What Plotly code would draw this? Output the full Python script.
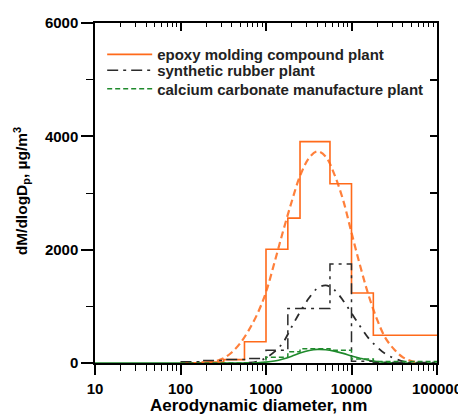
import plotly.graph_objects as go

# ---- data ----
bin_edges = [100, 180, 320, 560, 1000, 1800, 2500, 5600, 10000, 18000, 100000]
epoxy_step = [5, 18, 60, 375, 2007, 2556, 3906, 3163, 1234, 490]
rubber_step = [20, 45, 60, 80, 225, 963, 963, 1747, 30, 10]
calcium_step = [0, 0, 0, 5, 100, 200, 250, 225, 70, 25]

epoxy_fit_x = [200, 250, 320, 400, 500, 630, 800, 1000, 1260, 1580, 2000, 2500, 3200,
               4000, 5000, 6300, 8000, 10000, 12600, 15800, 20000, 25000, 32000, 40000,
               50000, 63000]
epoxy_fit_y = [5, 25, 85, 190, 350, 580, 880, 1250, 1780, 2320, 2850, 3300, 3620,
               3735, 3640, 3330, 2870, 2300, 1720, 1200, 760, 440, 230, 100, 35, 5]

rubber_fit_x = [630, 800, 1000, 1260, 1580, 2000, 2500, 3200, 4000, 5000, 6300, 8000,
                10000, 12600, 15800, 20000, 25000, 32000, 40000, 50000]
rubber_fit_y = [5, 30, 90, 200, 360, 640, 900, 1150, 1320, 1370, 1290, 1100,
                880, 650, 440, 280, 160, 80, 30, 5]

calcium_fit_x = [10, 100, 500, 800, 1000, 1260, 1580, 2000, 2500, 3200, 4000, 5000,
                 6300, 8000, 10000, 12600, 15800, 20000, 25000, 32000, 40000, 100000]
calcium_fit_y = [0, 0, 0, 5, 15, 35, 70, 120, 175, 220, 240, 235,
                 210, 170, 125, 85, 50, 25, 10, 4, 0, 0]

x_ticks = [10, 100, 1000, 10000, 100000]
x_ticktext = ["10", "100", "1000", "10000", "100000"]
x_minor = [m * d for d in [10, 100, 1000, 10000] for m in range(2, 10)]
y_ticks = [0, 2000, 4000, 6000]
y_minor = [1000, 3000, 5000]

series_names = ["epoxy molding compound plant", "synthetic rubber plant",
                "calcium carbonate manufacture plant"]

ORANGE = "#ff6a1a"
BLACK = "#2b2b2b"
GREEN = "#1f8a2c"


def step_xy(edges, vals):
    return list(edges), list(vals) + [vals[-1]]


fig = go.Figure()

# fitted curves (not in legend)
fig.add_trace(go.Scatter(x=calcium_fit_x, y=calcium_fit_y, mode="lines", line_shape="spline",
                         line=dict(color=GREEN, width=1.6), showlegend=False, hoverinfo="skip"))
fig.add_trace(go.Scatter(x=epoxy_fit_x, y=epoxy_fit_y, mode="lines", line_shape="spline",
                         line=dict(color=ORANGE, width=2.2, dash="7px,4px"),
                         opacity=0.85, showlegend=False, hoverinfo="skip"))
fig.add_trace(go.Scatter(x=rubber_fit_x, y=rubber_fit_y, mode="lines", line_shape="spline",
                         line=dict(color=BLACK, width=1.8, dash="8px,6px,2px,6px"),
                         showlegend=False, hoverinfo="skip"))

# step histograms (legend entries, one legend per row for exact spacing)
sx, sy = step_xy(bin_edges, epoxy_step)
fig.add_trace(go.Scatter(x=sx, y=sy, mode="lines", line_shape="hv", name=series_names[0],
                         line=dict(color=ORANGE, width=1.6), legend="legend"))
sx, sy = step_xy(bin_edges, rubber_step)
fig.add_trace(go.Scatter(x=sx, y=sy, mode="lines", line_shape="hv", name=series_names[1],
                         line=dict(color=BLACK, width=1.5, dash="11px,5px,3px,5px"),
                         legend="legend2"))
sx, sy = step_xy(bin_edges, calcium_step)
fig.add_trace(go.Scatter(x=sx, y=sy, mode="lines", line_shape="hv", name=series_names[2],
                         line=dict(color=GREEN, width=1.5, dash="5px,3px"),
                         legend="legend3"))

# helper trace to carry the top/right mirror axes
fig.add_trace(go.Scatter(x=[10, 100000], y=[0, 0], xaxis="x2", yaxis="y2", mode="lines",
                         line=dict(width=0, color="rgba(0,0,0,0)"), showlegend=False,
                         hoverinfo="skip"))

FONT = "Liberation Sans, Arial, Helvetica, sans-serif"
LEG_FONT = dict(family=FONT, size=15, color="#222", weight="bold")


def leg(ypos):
    return dict(x=0.021, y=ypos, xanchor="left", yanchor="middle",
                bgcolor="rgba(0,0,0,0)", borderwidth=0, font=LEG_FONT, itemwidth=45)


# the page body has an 8px margin, so the figure is sized/margined to compensate
fig.update_layout(
    width=458, height=407,
    margin=dict(l=87, r=29, t=15, b=52, autoexpand=False),
    paper_bgcolor="white", plot_bgcolor="white",
    font=dict(family=FONT, size=15, color="black", weight="bold"),
    showlegend=True,
    legend=leg(0.907),
    legend2=leg(0.860),
    legend3=leg(0.806),
    xaxis=dict(type="log", range=[1, 5], tickmode="array", tickvals=x_ticks,
               ticktext=x_ticktext, ticks="outside", ticklen=10, tickwidth=1.5,
               tickcolor="black", showline=True, linecolor="black", linewidth=1.5,
               showgrid=False, zeroline=False, ticklabelstandoff=1,
               tickfont=dict(family=FONT, size=15, color="black", weight="bold"),
               minor=dict(tickmode="array", tickvals=x_minor, ticks="outside", ticklen=6,
                          tickwidth=1.3, tickcolor="black", showgrid=False)),
    yaxis=dict(range=[0, 6000], tickmode="array", tickvals=y_ticks, ticks="outside",
               ticklen=12, tickwidth=1.5, tickcolor="black", showline=True,
               linecolor="black", linewidth=1.5, showgrid=False, zeroline=False,
               tickfont=dict(family=FONT, size=15, color="black", weight="bold"),
               minor=dict(tickmode="array", tickvals=y_minor, ticks="outside", ticklen=7,
                          tickwidth=1.3, tickcolor="black", showgrid=False)),
    xaxis2=dict(type="log", range=[1, 5], overlaying="x", side="top", anchor="y",
                tickmode="array", tickvals=x_ticks, ticks="inside", ticklen=8,
                tickwidth=1.5, tickcolor="black", showticklabels=False, showline=True,
                linecolor="black", linewidth=1.5, showgrid=False, zeroline=False,
                minor=dict(tickmode="array", tickvals=x_minor, ticks="inside", ticklen=4,
                           tickwidth=1.3, tickcolor="black", showgrid=False)),
    yaxis2=dict(range=[0, 6000], overlaying="y", side="right", anchor="x",
                tickmode="array", tickvals=y_ticks + y_minor, ticks="inside", ticklen=7,
                tickwidth=1.5, tickcolor="black", showticklabels=False, showline=True,
                linecolor="black", linewidth=1.5, showgrid=False, zeroline=False),
    annotations=[
        dict(text="Aerodynamic diameter, nm", xref="paper", yref="paper",
             x=0.477, y=-0.126, xanchor="center", yanchor="middle", showarrow=False,
             font=dict(family=FONT, size=17, color="black", weight="bold")),
        dict(text="dM/dlogD<sub>p</sub>, µg/m<sup>3</sup>", xref="paper", yref="paper",
             x=-0.2135, y=0.505, xanchor="center", yanchor="middle", showarrow=False,
             textangle=-90,
             font=dict(family=FONT, size=15.5, color="black", weight="bold")),
    ],
)

fig.write_html("out.html")
